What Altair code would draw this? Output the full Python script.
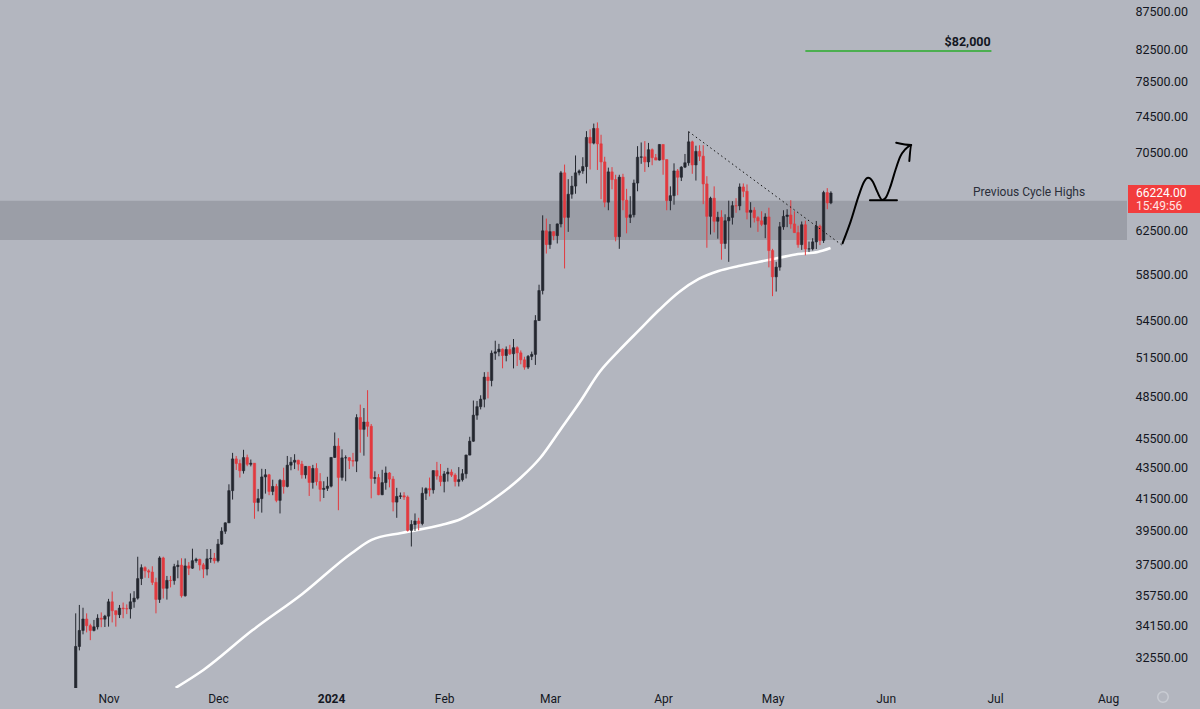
import altair as alt
import pandas as pd

# ---------------- data ----------------
start_date = "2023-10-23"
opens = [30000, 33080, 33900, 34500, 34150, 33900, 34090, 34540, 34490,
 34650, 35420, 34940, 34730, 35080, 35050, 35040, 35420, 35620, 36700, 37320, 37140, 37070, 36490, 35550, 37880, 36160, 36600, 36590, 37380, 37460, 35750, 37420, 37290, 37720, 37800, 37480, 37240, 37830, 37860,
 37720, 38690, 39460, 39970, 41990, 44080, 43770, 43290, 44170, 43720, 43790, 41240, 41480, 42880, 43020, 41940, 42260, 41370, 42660, 42260, 43660, 43860, 43990, 43730, 43020, 43580, 42520, 43440, 42580, 42070, 42140,
 42280, 44180, 44950, 42850, 44150, 44160, 43970, 43930, 46960, 46120, 46640, 46340, 42780, 42840, 41730, 42510, 43140, 42740, 41260, 41620, 41660, 41580, 39510, 39870, 40080, 39930, 41820, 42120, 42040, 43300, 42940,
 42580, 43080, 43200, 43000, 42580, 42700, 43090, 44340, 45290, 47130, 47750, 48300, 49960, 49700, 51820, 51930, 52140, 51640, 52120, 51780, 52260, 51850, 51300, 50730, 51570, 51730, 54480, 57040, 62500,
 61200, 62420, 62040, 63160, 68300, 63800, 66100, 66930, 68300, 68500, 68960, 72100, 71480, 73100, 71400, 69450, 65300, 68400, 67600, 61940, 67850, 65500, 63800, 64050, 67240, 69950, 69990, 69450, 70760, 69900, 69650,
 71330, 69700, 65460, 65950, 68500, 67840, 68900, 69360, 71620, 69130, 70580, 70060, 67150, 63900, 65700, 63420, 63800, 61300, 63470, 63800, 64950, 64940, 66840, 66400, 64300, 64500, 63770, 63460, 63120, 63840,
 60640, 58250, 59120, 62890, 63890, 64030, 63160, 62330, 61190, 63080, 60790, 60800, 61450, 62940, 61580, 66270, 65230]
highs = [34800, 35250, 35100, 34800, 34250, 34450, 34750, 34850, 34720,
 35580, 35980, 34950, 35250, 35380, 35280, 35880, 36000, 37950, 37510, 37400, 37230, 37400, 36750, 37980, 37950, 36850, 36850, 37540, 37740, 37860, 37850, 37640, 38420, 37890, 37830, 37590, 38400, 38400, 38170,
 38990, 39700, 40000, 42400, 44490, 44280, 44040, 44700, 44370, 44040, 43800, 42100, 43420, 43400, 43080, 42700, 42430, 42750, 43490, 44280, 44200, 44400, 44020, 43950, 43600, 43600, 43680, 43790, 43130, 42600, 42890,
 44190, 45900, 45500, 44730, 44320, 44200, 44490, 47200, 47900, 47650, 48970, 46500, 43250, 43070, 43350, 43570, 43200, 42930, 42170, 41870, 41890, 41680, 40130, 40550, 40280, 42200, 42200, 42840, 43300, 43880, 43740,
 43270, 43480, 43380, 43120, 43530, 43400, 44370, 45600, 48200, 48170, 48590, 50340, 50360, 52040, 52820, 52570, 52200, 52360, 52490, 52960, 52370, 52040, 51540, 51680, 51950, 54930, 57550, 64000, 63680,
 63150, 62450, 63200, 68500, 69170, 67640, 67980, 70140, 68650, 69950, 72800, 73000, 73650, 73780, 72400, 70000, 68850, 68900, 68100, 68100, 68200, 66650, 65900, 67600, 71150, 71550, 71700, 71500, 70900, 70300, 71350,
 71330, 69700, 66900, 69300, 68700, 69000, 70300, 72750, 71750, 71200, 71250, 71250, 67950, 65850, 66900, 64350, 64500, 64100, 65450, 65400, 65700, 67200, 67200, 67100, 65300, 64800, 63920, 64400, 64200, 64750,
 60800, 59600, 63350, 64500, 64600, 65500, 64400, 62990, 63400, 63480, 61480, 61800, 63450, 63100, 66450, 66720, 66400]
lows = [29900, 32880, 33700, 33800, 33400, 33850, 33950, 34070, 34080,
 34100, 34320, 34100, 34550, 34540, 34760, 34520, 35100, 35540, 36340, 36750, 36730, 36340, 34800, 35360, 35600, 35540, 36210, 36360, 36720, 35650, 35700, 36900, 37250, 37600, 37160, 36730, 36880, 37600, 37560,
 37620, 38650, 39300, 39970, 41420, 43340, 42840, 43100, 43590, 43580, 40220, 40680, 40600, 41800, 41700, 41700, 41250, 40550, 41800, 42200, 43320, 43400, 43300, 42770, 42770, 41650, 42120, 42320, 41300, 41520, 41970,
 42200, 44150, 40750, 42640, 42600, 43400, 43570, 43200, 44500, 44300, 45600, 41500, 42440, 41700, 41700, 42050, 42200, 40680, 40280, 41460, 41400, 39440, 38550, 39480, 39520, 39820, 41400, 41620, 41800, 42700, 42280,
 41880, 42580, 42880, 42260, 42260, 42580, 42780, 44330, 45250, 46800, 47550, 47700, 48360, 49260, 51300, 51580, 50640, 51180, 51680, 50630, 50820, 50950, 50530, 50580, 51280, 50900, 54440, 56700, 60360,
 60800, 61600, 61300, 62830, 59000, 62400, 65650, 66150, 68040, 68200, 67200, 68650, 71340, 68600, 65600, 64800, 64500, 66600, 61500, 60800, 64500, 62260, 63250, 63800, 66400, 69250, 68400, 68900, 69100, 69650, 69600,
 68100, 64500, 64500, 65050, 66000, 67450, 68800, 69050, 68200, 67500, 69550, 65100, 60900, 62150, 62350, 61750, 59800, 60800, 59600, 63100, 64250, 64500, 65800, 63600, 62800, 63300, 62400, 62950, 61800, 59100,
 56550, 56950, 58800, 62600, 62850, 62700, 62300, 60900, 60700, 60200, 60500, 60650, 60780, 61150, 61350, 64600, 65100]
closes = [33080, 33900, 34500, 34150, 33900, 34090, 34540, 34490, 34650,
 35420, 34940, 34730, 35080, 35050, 35040, 35420, 35620, 36700, 37320, 37140, 37070, 36490, 35550, 37880, 36160, 36600, 36590, 37380, 37460, 35750, 37420, 37290, 37720, 37800, 37480, 37240, 37830, 37860, 37720,
 38690, 39460, 39970, 41990, 44080, 43770, 43290, 44170, 43720, 43790, 41240, 41480, 42880, 43020, 41940, 42260, 41370, 42660, 42260, 43660, 43860, 43990, 43730, 43020, 43580, 42520, 43440, 42580, 42070, 42140, 42280,
 44180, 44950, 42850, 44150, 44160, 43970, 43930, 46960, 46120, 46640, 46340, 42780, 42840, 41730, 42510, 43140, 42740, 41260, 41620, 41660, 41580, 39510, 39870, 40080, 39930, 41820, 42120, 42040, 43300, 42940, 42580,
 43080, 43200, 43000, 42580, 42700, 43090, 44340, 45290, 47130, 47750, 48300, 49960, 49700, 51820, 51930, 52140, 51640, 52120, 51780, 52260, 51850, 51300, 50730, 51570, 51730, 54480, 57040, 62500, 61200,
 62420, 62040, 63160, 68300, 63800, 66100, 66930, 68300, 68500, 68960, 72100, 71480, 73100, 71400, 69450, 65300, 68400, 67600, 61940, 67850, 65500, 63800, 64050, 67240, 69950, 69990, 69450, 70760, 69900, 69650, 71330,
 69700, 65460, 65950, 68500, 67840, 68900, 69360, 71620, 69130, 70580, 70060, 67150, 63900, 65700, 63420, 63800, 61300, 63470, 63800, 64950, 64940, 66840, 66400, 64300, 64500, 63770, 63460, 63120, 63840, 60640,
 58250, 59120, 62890, 63890, 64030, 63160, 62330, 61190, 63080, 60790, 60800, 61450, 62940, 61580, 66270, 65230, 66224]

# moving average (white line) read at points: day offset from 2024-01-01, price
ma_days = [-42.6, -35.0, -21.5, -7.9, 5.7, 11.1, 19.3, 30.2, 35.6, 41.0, 46.5, 51.9, 57.3, 62.8,
           68.2, 73.6, 79.1, 84.5, 89.9, 95.4, 100.8, 106.2, 111.7, 117.1, 122.5, 128.0, 133.4, 136.9]
ma_values = [31050, 31910, 33920, 35850, 38170, 38940, 39360, 39840, 40210, 40890, 41770, 42810, 44140, 46080,
             48090, 50350, 52080, 53700, 55360, 56910, 58060, 58770, 59220, 59590, 59950, 60320, 60510, 60870]

# annotations
band_low, band_high = 61630, 65450
band_label = "Previous Cycle Highs"
band_label_day, band_label_price = 206.7, 66330

target_price = 82300
target_label = "$82,000"
target_days = [130, 181]
target_label_day = 180.8

trend_days = [98, 140.2]
trend_prices = [72750, 61100]

arrow_days = [140.2, 142.4, 144.7, 146.1, 147.2, 148.5, 149.7, 151.1, 152.2, 153.3, 154.7, 156.0, 157.4, 159.0]
arrow_prices = [61320, 63380, 66030, 67380, 67790, 67380, 66360, 65520, 65850, 66870, 68600, 70010, 70810, 71280]
head_days = [154.9, 159.0, 158.5]
head_prices = [71530, 71280, 69550]
base_days = [147.7, 155.1]
base_prices = [65490, 65490]

last_price = 66224
last_price_text = "66224.00"
countdown_text = "15:49:56"

y_ticks = [87500, 82500, 78500, 74500, 70500, 62500, 58500, 54500, 51500, 48500, 45500,
           43500, 41500, 39500, 37500, 35750, 34150, 32550]
x_tick_days = [-61, -31, 0, 31, 60, 91, 121, 152, 182, 213]
x_tick_labels = ["Nov", "Dec", "2024", "Feb", "Mar", "Apr", "May", "Jun", "Jul", "Aug"]

# ---------------- build tables ----------------
dates = pd.date_range(start_date, periods=len(opens), freq="D")
candles = pd.DataFrame({"date": dates, "open": opens, "high": highs, "low": lows, "close": closes})
candles["day"] = (candles["date"] - pd.Timestamp("2024-01-01")).dt.days
candles["dir"] = ["up" if c >= o else "down" for o, c in zip(opens, closes)]
candles = candles.drop(columns=["date"])

ma = pd.DataFrame({"day": ma_days, "price": ma_values})
trend = pd.DataFrame({"day": trend_days, "price": trend_prices})
arrow_rows = []
for i, (d, p) in enumerate(zip(arrow_days, arrow_prices)):
    arrow_rows.append({"seg": "body", "i": i, "day": d, "price": p})
for i, (d, p) in enumerate(zip(head_days, head_prices)):
    arrow_rows.append({"seg": "head", "i": i, "day": d, "price": p})
for i, (d, p) in enumerate(zip(base_days, base_prices)):
    arrow_rows.append({"seg": "base", "i": i, "day": d, "price": p})
arrow = pd.DataFrame(arrow_rows)
target = pd.DataFrame({"day": target_days, "price": [target_price] * 2})

BG = "#b3b6bf"
UP = "#24272f"
DOWN = "#e23a3f"
FONT = "Roboto"
W, H = 1127, 688

xscale = alt.Scale(domain=[-89.38, 216.79], nice=False, zero=False)
yscale = alt.Scale(type="log", domain=[31042, 88986], nice=False, zero=False)

label_expr = " : ".join(f"datum.value == {d} ? '{l}'" for d, l in zip(x_tick_days, x_tick_labels)) + " : ''"

x_axis = alt.Axis(values=x_tick_days, labelExpr=label_expr, grid=False, domain=False, ticks=False,
                  labelFont=FONT, labelFontSize=12, labelColor="#131722", labelPadding=5,
                  labelFontWeight={"condition": {"test": "datum.value == 0", "value": "bold"}, "value": "normal"},
                  title=None, labelFlush=False, labelOverlap=False)
y_axis = alt.Axis(orient="right", values=y_ticks, labelExpr="format(datum.value, '.2f')", grid=False,
                  domain=False, ticks=False, labelFont=FONT, labelFontSize=12.5, labelColor="#131722",
                  labelPadding=8, title=None, labelFlush=False, labelOverlap=False)


def X(field="day"):
    return alt.X(f"{field}:Q", scale=xscale, axis=x_axis)


def Y(field):
    return alt.Y(f"{field}:Q", scale=yscale, axis=y_axis)


color_scale = alt.Scale(domain=["up", "down"], range=[UP, DOWN])

band = alt.Chart(pd.DataFrame({"lo": [band_low], "hi": [band_high]})).mark_rect(color="#9b9ea7").encode(
    x=alt.value(0), x2=alt.value(W), y=Y("lo"), y2="hi:Q")

ma_line = alt.Chart(ma).mark_line(color="white", strokeWidth=2.6, interpolate="monotone", clip=True).encode(
    x=X(), y=Y("price"))

wicks = alt.Chart(candles).mark_rule(strokeWidth=1, clip=True).encode(
    x=X(), y=Y("low"), y2="high:Q",
    color=alt.Color("dir:N", scale=color_scale, legend=None))

bodies = alt.Chart(candles).mark_bar(size=2.4, strokeWidth=0.6, clip=True).encode(
    x=X(), y=Y("open"), y2="close:Q",
    color=alt.Color("dir:N", scale=color_scale, legend=None),
    stroke=alt.Color("dir:N", scale=color_scale, legend=None))

trend_line = alt.Chart(trend).mark_line(color="#111", strokeWidth=1, strokeDash=[1.5, 3]).encode(
    x=X(), y=Y("price"))

target_line = alt.Chart(target).mark_line(color="#4caf50", strokeWidth=2).encode(
    x=X(), y=Y("price"))
target_text = alt.Chart(pd.DataFrame({"day": [target_label_day], "price": [target_price], "t": [target_label]})).mark_text(
    align="right", baseline="middle", dy=-9, font=FONT, fontSize=12.5, fontWeight="bold", color="#131722").encode(
    x=X(), y=Y("price"), text="t:N")

arrow_lines = alt.Chart(arrow).mark_line(color="black", strokeWidth=2, interpolate="monotone",
                                         strokeCap="round", strokeJoin="round").encode(
    x=X(), y=Y("price"), detail="seg:N", order="i:Q")

band_text = alt.Chart(pd.DataFrame({"day": [band_label_day], "price": [band_label_price], "t": [band_label]})).mark_text(
    align="right", baseline="middle", font=FONT, fontSize=12, color="#2a2e39").encode(
    x=X(), y=Y("price"), text="t:N")

lp = pd.DataFrame({"price": [last_price], "t1": [last_price_text], "t2": [countdown_text]})
price_box = alt.Chart(lp).mark_rect(color="#f23d3d", yOffset=-8, y2Offset=20, clip=False).encode(
    x=alt.value(W + 1), x2=alt.value(W + 73), y=Y("price"), y2="price:Q")
price_t1 = alt.Chart(lp).mark_text(align="left", baseline="middle", font=FONT, fontSize=12, color="white").encode(
    x=alt.value(W + 9), y=Y("price"), text="t1:N")
price_t2 = alt.Chart(lp).mark_text(align="left", baseline="middle", dy=12.5, font=FONT, fontSize=12, color="#ffe5e5").encode(
    x=alt.value(W + 9), y=Y("price"), text="t2:N")

gear = alt.Chart(pd.DataFrame({"g": [1]})).mark_point(shape="circle", filled=False, size=110, strokeWidth=1.5,
                                                      color="#d3d6dc").encode(
    x=alt.value(W + 36), y=alt.value(H + 9))

chart = alt.layer(band, ma_line, wicks, bodies, trend_line, target_line, target_text, arrow_lines, band_text,
                  price_box, price_t1, price_t2, gear).properties(
    width=W, height=H,
    autosize=alt.AutoSizeParams(type="none"),
    padding={"left": 0, "top": 0, "right": 73, "bottom": 21},
    background=BG,
).configure_view(strokeWidth=0, fill=BG)

chart.save("out.html", embed_options={"renderer": "svg", "actions": False})
